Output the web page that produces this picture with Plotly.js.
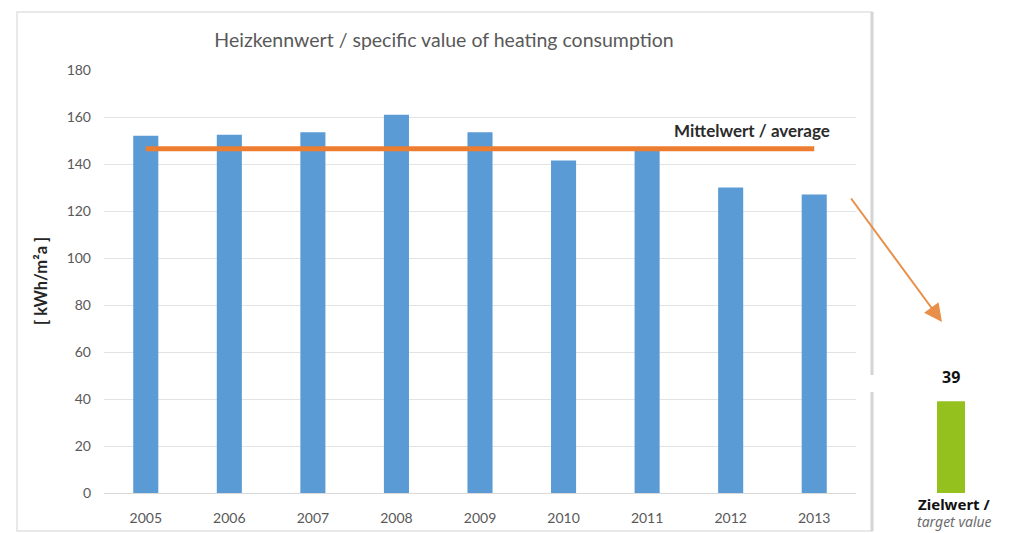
<!DOCTYPE html>
<html>
<head>
<meta charset="utf-8">
<script src="https://cdn.plot.ly/plotly-3.0.1.min.js"></script>
<style>html,body{margin:0;padding:0;background:#fff;}#chart{width:1022px;height:533px;}</style>
</head>
<body>
<div id="chart"></div>
<script>
const years = ['2005','2006','2007','2008','2009','2010','2011','2012','2013'];
const values = [152, 152.5, 153.5, 161, 153.5, 141.5, 146, 130, 127];
const averageValue = 146.5;
const targetCategory = ['Zielwert'];
const targetValues = [39];

const W = 1022, H = 533;
const px = x => x / W;
const py = y => (H - y) / H;

const traces = [
  {
    type: 'bar', x: years, y: values, xaxis: 'x', yaxis: 'y',
    marker: {color: '#5B9BD5'}, width: 0.3, hoverinfo: 'x+y'
  },
  {
    type: 'scatter', mode: 'lines', xaxis: 'x', yaxis: 'y',
    x: [years[0], years[years.length - 1]], y: [averageValue, averageValue],
    line: {color: '#ED7D31', width: 5}, hoverinfo: 'y'
  },
  {
    type: 'bar', x: targetCategory, y: targetValues, xaxis: 'x2', yaxis: 'y2',
    marker: {color: '#95C11F'}, width: 1, hoverinfo: 'y'
  }
];

const tickFont = {family: 'Lato, sans-serif', size: 14, color: '#595959'};

const layout = {
  width: W, height: H,
  margin: {l: 0, r: 0, t: 0, b: 0},
  paper_bgcolor: '#ffffff', plot_bgcolor: 'rgba(0,0,0,0)',
  showlegend: false,
  title: {
    text: 'Heizkennwert / specific value of heating consumption',
    x: px(444), y: py(40), xanchor: 'center', yanchor: 'middle',
    font: {family: 'Lato, sans-serif', size: 19.5, color: '#595959'}
  },
  xaxis: {
    domain: [px(104), px(856)], type: 'category', anchor: 'y',
    showgrid: false, showline: true, linecolor: '#D9D9D9', linewidth: 1,
    ticks: '', tickfont: tickFont, ticklabelstandoff: 12, automargin: false, fixedrange: true
  },
  yaxis: {
    domain: [py(493), py(70)], range: [0, 180], dtick: 20, anchor: 'x',
    showgrid: true, gridcolor: '#E3E3E3', gridwidth: 1, zeroline: false, showline: false,
    ticks: '', tickfont: tickFont, ticklabelstandoff: 12, automargin: false, fixedrange: true
  },
  xaxis2: {
    domain: [px(937), px(965)], type: 'category', anchor: 'y2',
    range: [-0.5, 0.5], visible: false, fixedrange: true
  },
  yaxis2: {
    domain: [py(493), py(70)], range: [0, 180], anchor: 'x2',
    visible: false, fixedrange: true
  },
  shapes: [
    {type: 'rect', xref: 'paper', yref: 'paper', x0: px(17), x1: px(872), y0: py(531), y1: py(12),
     line: {color: '#E2E2E2', width: 1.5}, fillcolor: 'rgba(0,0,0,0)', layer: 'below'},
    {type: 'line', xref: 'paper', yref: 'paper', x0: px(872), x1: px(872), y0: py(531), y1: py(12),
     line: {color: '#D4D4D4', width: 3}, layer: 'below'},
    {type: 'rect', xref: 'paper', yref: 'paper', x0: px(870), x1: px(902), y0: py(392), y1: py(375),
     line: {width: 0}, fillcolor: '#ffffff', layer: 'above'}
  ],
  annotations: [
    {xref: 'paper', yref: 'paper', x: px(41), y: py(281), text: '<b>[ kWh/m²a ]</b>',
     textangle: -90, showarrow: false, xanchor: 'center', yanchor: 'middle',
     font: {family: 'Lato, sans-serif', size: 16.5, color: '#262626'}},
    {xref: 'paper', yref: 'paper', x: px(752), y: py(130), text: '<b>Mittelwert / average</b>',
     showarrow: false, xanchor: 'center', yanchor: 'middle',
     font: {family: 'Lato, sans-serif', size: 17, color: '#2b2b2b'}},
    {xref: 'paper', yref: 'paper', x: px(942), y: py(322), ax: -92, ay: -125,
     text: '', showarrow: true, arrowhead: 2, arrowsize: 1.8, arrowwidth: 2, arrowcolor: '#E8904A'},
    {xref: 'x2', yref: 'y2', x: targetCategory[0], y: targetValues[0], text: '<b>' + targetValues[0] + '</b>',
     showarrow: false, xanchor: 'center', yanchor: 'bottom', yshift: 11,
     font: {family: 'Noto Sans, sans-serif', size: 16, color: '#111111'}},
    {xref: 'paper', yref: 'paper', x: px(954), y: py(504), text: '<b>Zielwert /</b>',
     showarrow: false, xanchor: 'center', yanchor: 'middle',
     font: {family: 'Noto Sans, sans-serif', size: 15, color: '#111111'}},
    {xref: 'paper', yref: 'paper', x: px(954), y: py(521), text: '<i>target value</i>',
     showarrow: false, xanchor: 'center', yanchor: 'middle',
     font: {family: 'Noto Sans, sans-serif', size: 14, color: '#6d6d6d'}}
  ]
};

Plotly.newPlot('chart', traces, layout, {displayModeBar: false, staticPlot: true});
</script>
</body>
</html>
